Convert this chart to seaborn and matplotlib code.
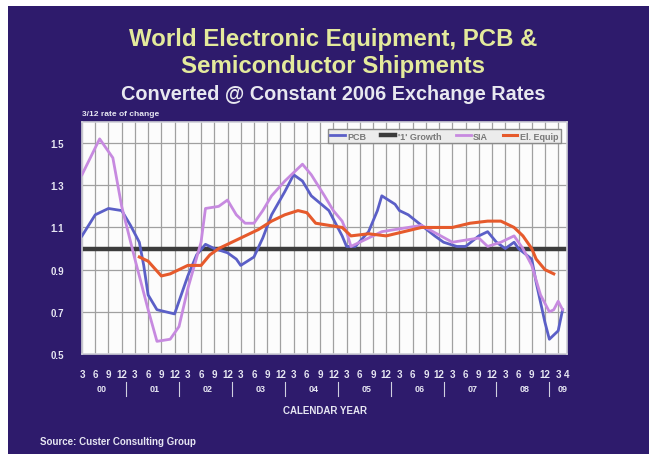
import numpy as np
import pandas as pd
import matplotlib
matplotlib.use('Agg')
import matplotlib.pyplot as plt
import matplotlib.patches as mpatches
import matplotlib.transforms as mtransforms
import seaborn as sns

# month index: 0 = Jan 2000
pcb_month = [2, 5, 8, 11, 13, 15, 16, 17, 19, 21, 23, 24, 26, 28, 30, 32, 35, 37, 38, 41, 43, 45,
             48, 50, 52, 54, 58, 61, 62, 64, 67, 69, 70, 73, 74, 76, 79, 82, 84, 87, 89, 92, 94,
             96, 98, 100, 101, 104, 105, 107, 108, 110, 111]
pcb_val = [1.06, 1.16, 1.19, 1.18, 1.11, 1.03, 0.92, 0.78, 0.71, 0.70, 0.69, 0.75, 0.87, 0.97,
           1.02, 1.00, 0.98, 0.95, 0.92, 0.96, 1.05, 1.16, 1.27, 1.35, 1.32, 1.25, 1.18, 1.06,
           1.01, 1.01, 1.08, 1.18, 1.25, 1.21, 1.18, 1.16, 1.11, 1.06, 1.03, 1.01, 1.01, 1.06,
           1.08, 1.03, 1.00, 1.03, 1.00, 0.95, 0.84, 0.65, 0.57, 0.61, 0.71]

sia_month = [2, 6, 9, 11, 14, 17, 19, 22, 24, 26, 29, 30, 33, 35, 37, 39, 41, 43, 45, 48, 52, 54,
             57, 59, 61, 62, 63, 67, 70, 79, 86, 92, 94, 97, 100, 102, 104, 106, 108, 109, 110, 111]
sia_val = [1.35, 1.52, 1.43, 1.20, 0.95, 0.71, 0.56, 0.57, 0.63, 0.81, 1.03, 1.19, 1.20, 1.23,
           1.16, 1.12, 1.12, 1.18, 1.25, 1.32, 1.40, 1.35, 1.25, 1.18, 1.13, 1.08, 1.01, 1.05,
           1.08, 1.11, 1.03, 1.05, 1.01, 1.03, 1.06, 1.00, 0.92, 0.78, 0.70, 0.71, 0.75, 0.71]

eq_month = [15, 17, 20, 22, 24, 26, 29, 31, 33, 36, 39, 42, 45, 48, 51, 53, 55, 58, 61, 63, 67,
            71, 75, 79, 83, 86, 90, 94, 97, 100, 102, 104, 105, 107, 109]
eq_val = [0.96, 0.94, 0.87, 0.88, 0.90, 0.92, 0.92, 0.97, 1.00, 1.03, 1.06, 1.09, 1.13, 1.16,
          1.18, 1.17, 1.12, 1.11, 1.10, 1.06, 1.07, 1.06, 1.08, 1.10, 1.10, 1.10, 1.12, 1.13,
          1.13, 1.10, 1.06, 1.00, 0.95, 0.90, 0.88]

growth_month = [2, 112]
growth_val = [1.0, 1.0]

tick_month = list(range(2, 111, 3)) + [112]
tick_label = ['3', '6', '9', '12'] * 9 + ['3', '4']
years = ['00', '01', '02', '03', '04', '05', '06', '07', '08', '09']
year_ticks = [0.5, 0.7, 0.9, 1.1, 1.3, 1.5]

series = [('PCB', pcb_month, pcb_val, '#5b5fc7', 2.0),
          ("'1' Growth", growth_month, growth_val, '#3c3c3c', 3.2),
          ('SIA', sia_month, sia_val, '#c78ae0', 2.0),
          ('El. Equip', eq_month, eq_val, '#e65a2c', 2.2)]

df = pd.concat([pd.DataFrame({'month': m, 'value': v, 'series': n}) for n, m, v, c, w in series])

plt.rcParams['font.family'] = ['Liberation Sans', 'DejaVu Sans']
plt.rcParams['font.weight'] = 'bold'

fig = plt.figure(figsize=(6.57, 4.6), dpi=100)
fig.patch.set_facecolor('white')
fig.patches.append(mpatches.Rectangle((8 / 657, 1 - 455 / 460), 641 / 657, 448 / 460,
                                      transform=fig.transFigure, facecolor='#2e1b6c',
                                      edgecolor='none', zorder=-5))

ax = fig.add_axes([82 / 657, 1 - 355 / 460, 485 / 657, 232 / 460])
ax.set_zorder(2)
ax.set_facecolor('#fcfcfc')

for name, m, v, color, lw in series:
    sns.lineplot(data=df[df['series'] == name], x='month', y='value', color=color,
                 linewidth=lw, label=name, ax=ax, zorder=3 if name != "'1' Growth" else 2)

ax.set_xlim(2, 112)
ax.set_ylim(0.5, 1.6)
ax.set_xticks(tick_month)
ax.set_xticklabels(tick_label)
ax.set_yticks(year_ticks)
ax.set_yticklabels([f'{t:.1f}' for t in year_ticks])
ax.tick_params(axis='x', length=0, pad=11, labelsize=7, labelcolor='#e6e6f2')
ax.tick_params(axis='y', length=0, pad=13, labelsize=7, labelcolor='#e6e6f2')
ax.grid(True, color='#a0a0a0', linewidth=0.9)
ax.set_axisbelow(True)
ax.set_xlabel('')
ax.set_ylabel('')
for s in ax.spines.values():
    s.set_color('#d0d0d8')
    s.set_linewidth(1.2)

# year labels and separators under the month ticks
trans = mtransforms.blended_transform_factory(ax.transData, ax.transAxes)
for i, yr in enumerate(years):
    ym = [t for t in tick_month if 12 * i <= t < 12 * (i + 1)]
    ax.text((ym[0] + ym[-1]) / 2, -0.15, yr, transform=trans, ha='center', va='center',
            fontsize=6.5, color='#e6e6f2')
    if i > 0:
        ax.plot([12 * i, 12 * i], [-0.12, -0.18], transform=trans, color='#d0d0e0',
                linewidth=0.8, clip_on=False)

leg = ax.legend(loc='upper right', bbox_to_anchor=(0.997, 0.99), ncol=4, fontsize=6.5,
                handlelength=1.6, handletextpad=0.3, columnspacing=1.6, borderpad=0.3,
                fancybox=False, framealpha=1)
leg.get_frame().set_facecolor('#ececec')
leg.get_frame().set_edgecolor('#8a8a8a')
for t in leg.get_texts():
    t.set_color('#787878')

fig.text(333 / 657, 1 - 40 / 460, 'World Electronic Equipment, PCB &', ha='center', va='center',
         fontsize=17.3, color='#e4ea9c')
fig.text(333 / 657, 1 - 67 / 460, 'Semiconductor Shipments', ha='center', va='center',
         fontsize=17.3, color='#e4ea9c')
fig.text(333 / 657, 1 - 94 / 460, 'Converted @ Constant 2006 Exchange Rates', ha='center',
         va='center', fontsize=14.3, color='#e8e8f0')
fig.text(82 / 657, 1 - 114 / 460, '3/12 rate of change', ha='left', va='center', fontsize=6,
         color='#e6e6f2')
fig.text(325 / 657, 1 - 411 / 460, 'CALENDAR YEAR', ha='center', va='center', fontsize=7,
         color='#e6e6f2')
fig.text(40 / 657, 1 - 442 / 460, 'Source: Custer Consulting Group', ha='left', va='center',
         fontsize=7, color='#e6e6f2')

fig.savefig('out.png', dpi=100)
plt.close()
